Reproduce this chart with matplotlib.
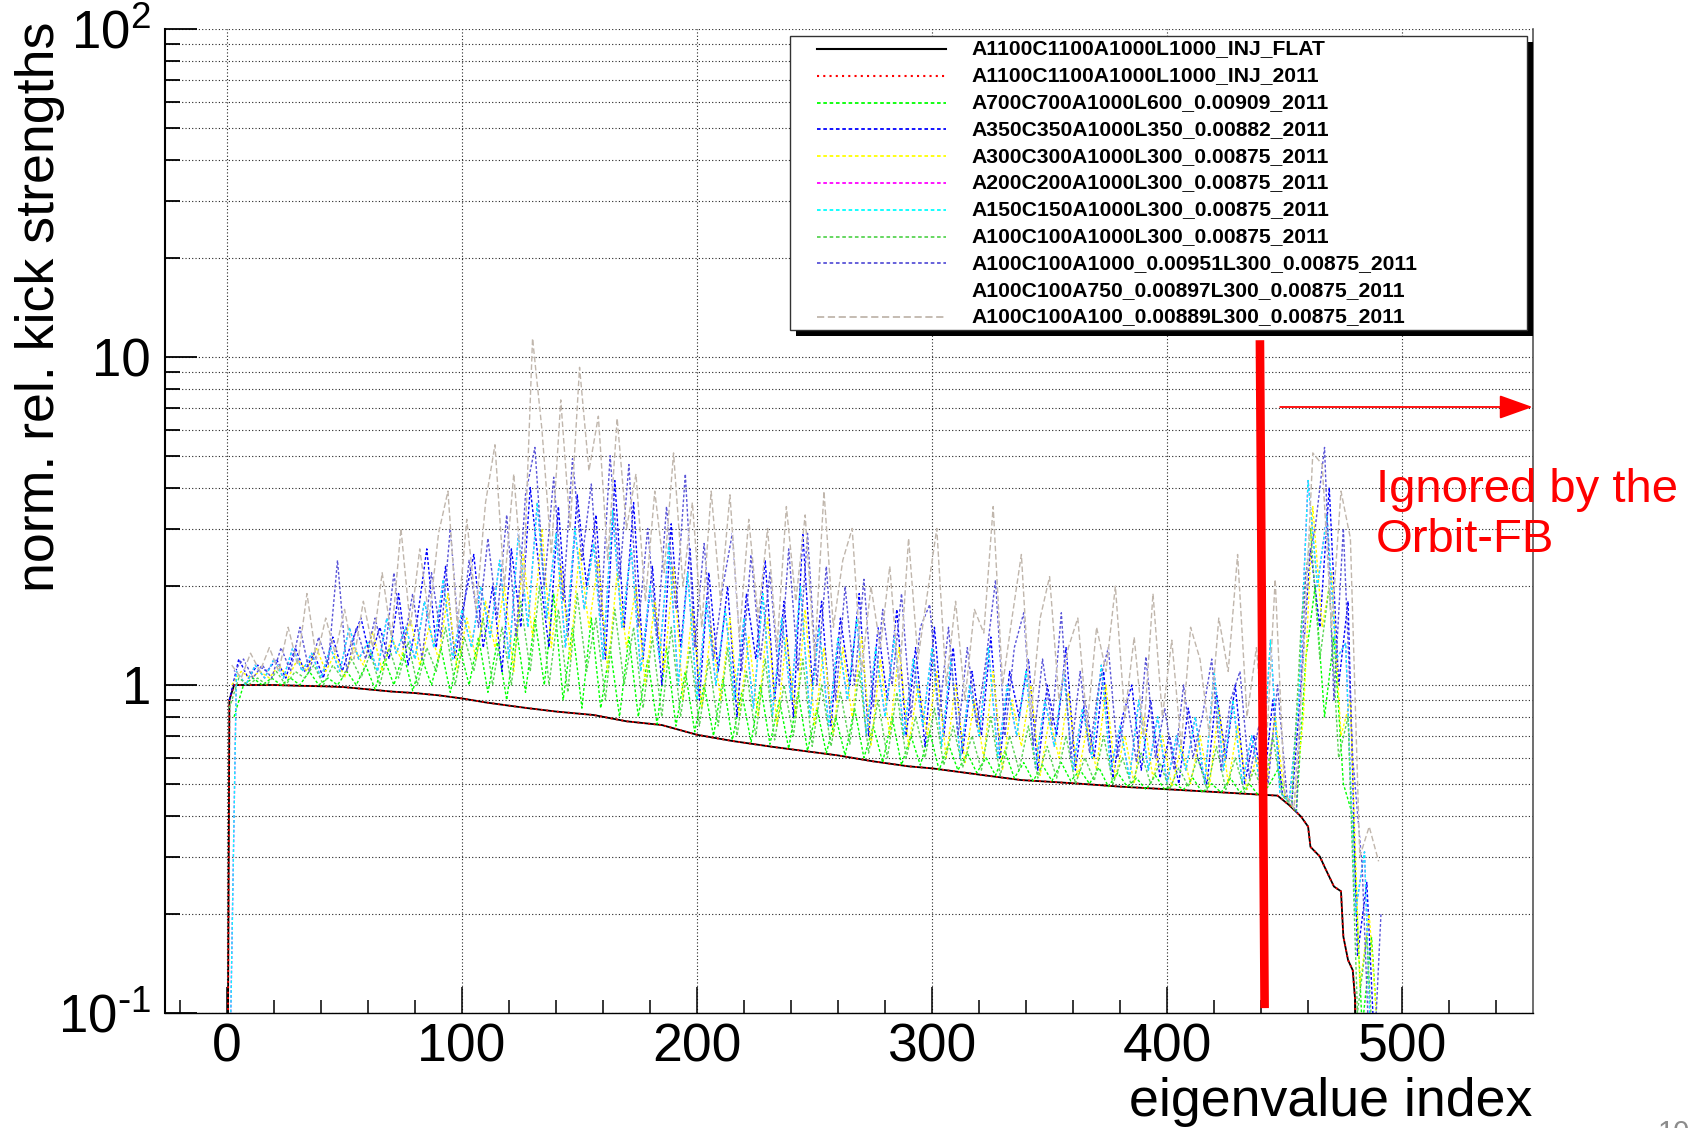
import numpy as np
import matplotlib
matplotlib.use("Agg")
import matplotlib.pyplot as plt
from matplotlib.lines import Line2D
from matplotlib.patches import Rectangle
from matplotlib.ticker import FixedLocator, LogLocator, NullFormatter

plt.rcParams['font.family'] = ['Liberation Sans', 'DejaVu Sans']
plt.rcParams['mathtext.default'] = 'regular'

W, H = 1694, 1128

# reference optics (INJ_FLAT); the INJ_2011 curve sits right on top of it
base_idx = [0, 1, 3, 10, 20, 30, 43, 50, 60, 70, 80, 90, 100, 110, 120, 128,
            140, 156, 170, 185, 200, 215, 232, 245, 260, 275, 290, 300, 310,
            321, 338, 350, 363, 380, 400, 420, 440, 447, 452, 457, 460, 461,
            465, 467, 471, 474, 475, 477, 479, 480, 481]
base_val = [0.02, 0.9, 1.0, 1.0, 1.0, 0.995, 0.99, 0.985, 0.97, 0.955, 0.945,
            0.93, 0.91, 0.885, 0.865, 0.85, 0.83, 0.81, 0.775, 0.755, 0.705,
            0.675, 0.648, 0.63, 0.61, 0.585, 0.565, 0.557, 0.545, 0.532, 0.513,
            0.507, 0.5, 0.49, 0.481, 0.472, 0.463, 0.46, 0.43, 0.397, 0.37,
            0.321, 0.30, 0.279, 0.243, 0.235, 0.171, 0.145, 0.135, 0.11, 0.05]

# the other optics, every 4th eigenvalue
idx0 = np.arange(0, 492, 4)
idx1 = np.arange(1, 493, 4)
idx2 = np.arange(2, 494, 4)
idx3 = np.arange(3, 495, 4)

a700 = [0.8, 1.0, 1.05, 1.0, 1.05, 1.0, 1.05, 1.0, 1.1, 1.0,
        1.05, 1.0, 1.1, 1.0, 1.15, 0.97, 1.2, 1.0, 1.25, 0.96,
        1.2, 1.0, 1.3, 0.95, 1.3, 1.0, 1.4, 0.95, 1.35, 0.9,
        1.5, 0.95, 1.6, 1.0, 1.9, 0.9, 1.5, 0.85, 1.6, 0.85,
        1.3, 0.8, 1.4, 0.8, 1.2, 0.76, 1.3, 0.75, 1.1, 0.72,
        1.0, 0.7, 1.05, 0.68, 0.95, 0.67, 1.0, 0.66, 0.9, 0.64,
        0.95, 0.63, 0.85, 0.62, 0.8, 0.61, 0.85, 0.6, 0.75, 0.58,
        0.8, 0.57, 0.7, 0.57, 0.72, 0.55, 0.66, 0.55, 0.62, 0.54,
        0.6, 0.53, 0.63, 0.52, 0.58, 0.51, 0.57, 0.51, 0.58, 0.51,
        0.55, 0.5, 0.56, 0.49, 0.54, 0.49, 0.52, 0.48, 0.53, 0.48,
        0.5, 0.48, 0.52, 0.47, 0.5, 0.47, 0.52, 0.47, 0.5, 0.46,
        0.49, 0.55, 0.45, 0.41, 1.2, 2.0, 0.8, 1.4, 0.5, 0.4,
        0.09, 0.17, 0.06]

a350 = [0.9, 1.2, 1.05, 1.15, 1.1, 1.2, 1.05, 1.3, 1.1, 1.25,
        1.05, 1.4, 1.1, 1.35, 1.6, 1.2, 1.5, 1.2, 1.9, 1.15,
        1.6, 2.6, 1.3, 2.3, 1.2, 1.8, 2.5, 1.3, 2.0, 1.1,
        2.6, 1.5, 4.0, 2.2, 1.3, 3.5, 1.4, 3.8, 2.0, 3.3,
        1.2, 4.2, 1.5, 3.6, 1.2, 2.3, 1.0, 3.1, 1.3, 2.6,
        0.9, 2.2, 1.1, 2.0, 0.8, 1.9, 1.2, 2.4, 0.9, 1.8,
        0.8, 2.9, 1.0, 1.8, 0.75, 1.6, 1.0, 1.9, 0.7, 1.5,
        0.9, 1.7, 0.7, 1.3, 0.65, 1.5, 0.7, 1.3, 0.62, 1.1,
        0.7, 1.4, 0.6, 1.1, 0.8, 1.2, 0.55, 1.0, 0.7, 1.3,
        0.55, 0.9, 0.6, 1.1, 0.52, 0.8, 1.0, 0.55, 0.9, 0.52,
        0.7, 0.5, 0.85, 0.6, 0.5, 0.95, 0.6, 1.0, 0.5, 0.7,
        0.48, 0.9, 0.47, 0.43, 1.0, 2.6, 1.5, 4.0, 1.0, 1.8,
        0.15, 0.25, 0.06]

a300 = [1.0, 1.1, 1.05, 1.1, 1.05, 1.15, 1.05, 1.2, 1.1, 1.3,
        1.1, 1.25, 1.05, 1.3, 1.15, 1.45, 1.1, 1.4, 1.2, 1.6,
        1.15, 1.5, 1.2, 1.9, 1.1, 1.6, 1.2, 1.8, 1.3, 2.0,
        1.1, 2.5, 1.4, 3.0, 1.3, 2.3, 1.2, 2.6, 1.5, 2.4,
        1.1, 2.2, 1.3, 2.0, 1.0, 1.8, 1.1, 2.3, 0.9, 1.7,
        0.85, 1.5, 0.9, 1.6, 0.8, 1.4, 0.8, 1.6, 0.75, 1.4,
        0.8, 1.7, 0.75, 1.3, 0.7, 1.3, 0.8, 1.4, 0.65, 1.2,
        0.7, 1.3, 0.65, 1.0, 0.7, 1.1, 0.6, 1.0, 0.58, 0.9,
        0.6, 1.1, 0.55, 0.9, 0.65, 1.0, 0.53, 0.8, 0.6, 0.95,
        0.52, 0.75, 0.55, 1.0, 0.52, 0.7, 0.5, 0.8, 0.52, 0.7,
        0.49, 0.65, 0.5, 0.7, 0.49, 0.85, 0.5, 0.75, 0.48, 0.6,
        0.47, 0.8, 0.46, 0.42, 0.8, 3.5, 1.5, 2.2, 0.7, 0.9,
        0.12, 0.2, 0.08]

a150 = [0.02, 1.1, 1.0, 1.15, 1.05, 1.2, 1.05, 1.3, 1.1, 1.25,
        1.05, 1.3, 1.1, 1.5, 1.2, 1.35, 1.1, 1.6, 1.25, 1.5,
        1.2, 1.8, 1.3, 2.1, 1.2, 1.7, 1.3, 2.0, 1.4, 2.4,
        1.2, 2.9, 1.5, 3.6, 1.6, 2.9, 1.3, 3.0, 1.7, 2.7,
        1.2, 3.4, 1.5, 2.6, 1.1, 2.0, 1.2, 2.7, 1.0, 2.2,
        0.9, 1.8, 1.0, 1.7, 0.9, 1.6, 0.85, 1.9, 0.8, 1.6,
        0.9, 2.0, 0.8, 1.5, 0.75, 1.4, 0.9, 1.6, 0.7, 1.3,
        0.8, 1.4, 0.7, 1.2, 0.75, 1.3, 0.65, 1.2, 0.6, 1.0,
        0.7, 1.3, 0.6, 1.0, 0.7, 1.1, 0.56, 0.9, 0.65, 1.1,
        0.55, 0.85, 0.6, 1.15, 0.55, 0.75, 0.52, 0.9, 0.55, 0.8,
        0.5, 0.7, 0.55, 0.8, 0.5, 1.1, 0.55, 0.9, 0.5, 0.7,
        0.48, 1.37, 0.47, 0.44, 0.9, 4.2, 2.0, 3.3, 1.2, 1.34,
        0.2, 0.31, 0.04]

a100 = [0.85, 1.05, 1.0, 1.05, 1.0, 1.1, 1.0, 1.1, 1.05, 1.15,
        1.0, 1.15, 1.05, 1.2, 1.05, 1.25, 1.0, 1.3, 1.05, 1.35,
        1.0, 1.3, 1.1, 1.5, 1.0, 1.4, 1.1, 1.6, 1.0, 1.5,
        1.0, 1.8, 1.1, 2.0, 1.0, 1.7, 0.95, 1.9, 1.1, 1.6,
        0.9, 1.7, 1.0, 1.5, 0.85, 1.4, 0.8, 1.5, 0.8, 1.3,
        0.75, 1.2, 0.75, 1.3, 0.7, 1.1, 0.7, 1.2, 0.68, 1.0,
        0.7, 1.2, 0.65, 1.0, 0.65, 0.95, 0.66, 1.1, 0.62, 0.9,
        0.6, 0.95, 0.6, 0.8, 0.6, 0.85, 0.57, 0.75, 0.56, 0.7,
        0.55, 0.8, 0.53, 0.7, 0.55, 0.75, 0.52, 0.65, 0.52, 0.7,
        0.5, 0.6, 0.51, 0.7, 0.5, 0.6, 0.49, 0.62, 0.5, 0.58,
        0.48, 0.56, 0.49, 0.6, 0.48, 0.65, 0.48, 0.6, 0.47, 0.55,
        0.47, 0.7, 0.46, 0.43, 1.5, 3.0, 1.2, 2.0, 0.6, 0.8,
        0.1, 0.17, 0.05]

a100_a1000 = [1.1, 1.2, 1.05, 1.15, 1.05, 1.3, 1.1, 1.5, 1.1, 1.4,
              1.15, 2.4, 1.1, 1.5, 1.2, 1.6, 1.2, 2.2, 1.3, 1.9,
              1.2, 2.2, 1.4, 3.0, 1.3, 2.4, 1.5, 2.8, 1.6, 3.3,
              1.4, 3.8, 5.3, 2.0, 4.3, 1.8, 4.9, 2.4, 4.1, 1.6,
              5.0, 2.1, 4.7, 1.5, 3.0, 1.4, 3.5, 1.7, 4.4, 1.3,
              2.7, 1.2, 2.0, 2.9, 1.1, 2.5, 1.2, 2.2, 1.0, 2.6,
              1.1, 2.9, 1.0, 2.3, 0.9, 2.0, 1.0, 2.1, 0.85, 1.7,
              1.0, 1.9, 0.8, 1.5, 1.76, 0.8, 1.5, 0.7, 1.3, 0.75,
              1.2, 2.09, 0.7, 1.3, 1.66, 0.65, 1.2, 0.75, 1.66, 0.6,
              1.1, 0.62, 1.0, 1.3, 0.6, 0.9, 0.58, 1.22, 0.6, 0.85,
              0.55, 1.0, 0.6, 0.8, 1.2, 0.55, 0.9, 1.1, 0.52, 0.75,
              0.5, 1.0, 0.46, 0.41, 2.2, 3.0, 5.3, 0.9, 3.0, 0.6,
              0.28, 0.05, 0.2]

a100_a100 = [1.15, 1.05, 1.25, 1.1, 1.3, 1.1, 1.5, 1.15, 1.9, 1.2,
             1.6, 1.25, 1.7, 1.2, 1.8, 1.3, 2.2, 1.4, 3.0, 1.5,
             2.6, 1.6, 2.9, 3.9, 1.5, 3.2, 1.7, 3.6, 5.4, 2.0,
             4.4, 1.9, 11.4, 6.0, 2.5, 7.4, 3.0, 9.3, 4.5, 6.6,
             2.4, 6.5, 3.0, 4.4, 1.8, 3.9, 2.2, 5.1, 2.0, 3.6,
             1.5, 3.9, 1.8, 3.8, 1.4, 3.2, 1.6, 3.0, 1.3, 3.5,
             1.8, 3.3, 1.2, 3.9, 1.5, 2.4, 3.0, 1.1, 2.0, 1.3,
             2.3, 1.0, 2.8, 1.2, 1.9, 3.0, 1.0, 1.8, 0.9, 1.7,
             1.44, 3.5, 1.0, 1.6, 2.5, 0.8, 1.6, 2.14, 0.9, 1.3,
             1.6, 0.75, 1.5, 1.1, 2.0, 0.8, 1.4, 0.7, 1.9, 0.8,
             1.37, 0.65, 1.5, 1.2, 0.7, 1.6, 1.1, 2.5, 0.8, 1.3,
             0.6, 2.1, 0.47, 0.42, 1.2, 5.1, 4.7, 1.5, 3.9, 2.8,
             0.30, 0.37, 0.29]

names = ['A1100C1100A1000L1000_INJ_FLAT',
         'A1100C1100A1000L1000_INJ_2011',
         'A700C700A1000L600_0.00909_2011',
         'A350C350A1000L350_0.00882_2011',
         'A300C300A1000L300_0.00875_2011',
         'A200C200A1000L300_0.00875_2011',
         'A150C150A1000L300_0.00875_2011',
         'A100C100A1000L300_0.00875_2011',
         'A100C100A1000_0.00951L300_0.00875_2011',
         'A100C100A750_0.00897L300_0.00875_2011',
         'A100C100A100_0.00889L300_0.00875_2011']

dot = (0, (2, 1.5))
dash = (0, (4, 2))
# (x, y, colour, linestyle, linewidth) in drawing order
# A200 and A750 runs end up hidden below A150 / A100 in the plot,
# so they reuse those arrays
series = [
    (base_idx, base_val, '#000000', '-', 1.3),
    (base_idx, base_val, '#ff0000', (0, (1, 2)), 1.3),
    (idx3, a700, '#00ff00', dot, 1.0),
    (idx1, a350, '#0000ff', dot, 1.0),
    (idx2, a300, '#ffff00', dot, 1.0),
    (idx0, a150, '#ff00ff', dot, 1.0),
    (idx0, a150, '#00ffff', dot, 1.0),
    (idx1, a100, '#59d454', dot, 1.0),
    (idx3, a100_a1000, '#5954d8', dot, 1.0),
    (idx2, a100_a100, '#ffffff', dot, 1.0),
    (idx2, a100_a100, '#c0b6ac', dash, 1.0),
]

fig = plt.figure(figsize=(W / 100, H / 100), dpi=100)
ax = fig.add_axes([165 / W, 1 - 1013 / H, (1533 - 165) / W, (1013 - 29) / H])

for x, y, c, ls, lw in series:
    ax.plot(x, y, color=c, linestyle=ls, lw=lw)

ax.set_yscale('log')
ax.set_xlim(-26.4, 555.7)
ax.set_ylim(0.1, 100)

ax.xaxis.set_major_locator(FixedLocator([0, 100, 200, 300, 400, 500]))
ax.xaxis.set_minor_locator(FixedLocator(np.arange(-20, 560, 20)))
ax.set_yticks([0.1, 1, 10, 100],
              labels=[r'$10^{\text{-}1}$', '1', '10', '$10^{2}$'])
ax.yaxis.set_minor_locator(LogLocator(base=10, subs=np.arange(2, 10)))
ax.yaxis.set_minor_formatter(NullFormatter())

ax.tick_params(axis='x', which='major', direction='in', length=18.7, width=1.1,
               labelsize=38.5, pad=7, top=False)
ax.tick_params(axis='x', which='minor', direction='in', length=9.4, width=1.1, top=False)
ax.tick_params(axis='y', which='major', direction='in', length=23, width=1.3,
               labelsize=38, pad=10, right=False)
ax.tick_params(axis='y', which='minor', direction='in', length=11, width=1.3, right=False)

grid_ls = (0, (1, 2))
ax.grid(True, which='major', axis='both', color='#222222', linestyle=grid_ls, lw=0.8)
ax.grid(True, which='minor', axis='y', color='#222222', linestyle=grid_ls, lw=0.8)

ax.spines['top'].set_visible(False)
ax.spines['left'].set_linewidth(1.5)
ax.spines['bottom'].set_linewidth(1.0)
ax.spines['right'].set_linewidth(1.2)
ax.spines['right'].set_color('#555555')

# cut of the orbit feedback and the ignored range
ax.plot([439.5, 441.5], [11.25, 0.1035], color='#ff0000', lw=6.2,
        solid_capstyle='butt', clip_on=False, zorder=5)
ax.annotate('', xy=(555.5, 7.04), xytext=(448.1, 7.04),
            arrowprops=dict(arrowstyle='-|>,head_length=21,head_width=7.5',
                            color='#ff0000', lw=1.3, mutation_scale=1,
                            shrinkA=0, shrinkB=0),
            annotation_clip=False, zorder=5)


def fx(px):
    return px / W


def fy(py):
    return 1 - py / H


fig.text(fx(1376), fy(502), 'Ignored by the', color='#ff0000', fontsize=34,
         ha='left', va='baseline')
fig.text(fx(1376), fy(552), 'Orbit-FB', color='#ff0000', fontsize=34,
         ha='left', va='baseline')

fig.text(fx(1532), fy(1116), 'eigenvalue index', fontsize=38.7,
         ha='right', va='baseline')
fig.text(fx(40), fy(22), 'norm. rel. kick strengths', fontsize=38.7,
         rotation=90, ha='center', va='top')
fig.text(fx(1658), fy(1119), '10', fontsize=21, color='#8c8c8c',
         ha='left', va='top')

# legend box with shadow
fig.add_artist(Rectangle((fx(796), fy(336)), (1533 - 796) / W, (336 - 42) / H,
                         transform=fig.transFigure, facecolor='black',
                         edgecolor='none'))
fig.add_artist(Rectangle((fx(790), fy(330)), (1527 - 790) / W, (330 - 36) / H,
                         transform=fig.transFigure, facecolor='white',
                         edgecolor='#333333', lw=1.0))
for i, (name, s) in enumerate(zip(names, series)):
    row = 49 + i * 26.8
    fig.add_artist(Line2D([fx(817), fx(946)], [fy(row), fy(row)],
                          transform=fig.transFigure, color=s[2],
                          linestyle=s[3], lw=1.5 if i < 2 else 1.3))
    fig.text(fx(971), fy(row), name, fontsize=15.2, fontweight='bold',
             ha='left', va='center')

fig.savefig('out.png', dpi=100)
